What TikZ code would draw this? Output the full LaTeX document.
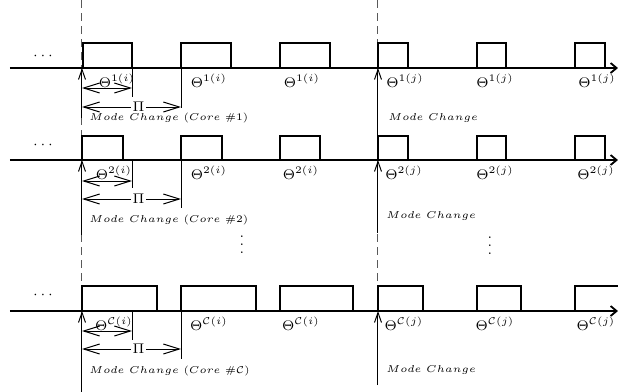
\documentclass[tikz,border=0pt]{standalone}
\usetikzlibrary{arrows,arrows.meta,positioning}

\tikzset{
  axe/.style={line width=0.9pt,-{Straight Barb[length=3pt,width=5pt]}},
  boite/.style={line width=0.8pt},
  coupure/.style={gray!70!black,dashed,dash pattern=on 4pt off 2.5pt,line width=0.5pt},
  duree/.style={line width=0.5pt,{Straight Barb[length=8pt,width=5pt]}-{Straight Barb[length=8pt,width=5pt]}},
  repere/.style={line width=0.4pt},
  mc/.style={line width=0.5pt,-{Straight Barb[length=5pt,width=3.5pt]}},
  etiq/.style={font=\fontsize{7}{8}\selectfont,inner sep=0pt},
  txtmc/.style={font=\fontsize{5}{6}\selectfont,anchor=west,inner sep=0pt},
  points/.style={font=\fontsize{7}{8}\selectfont,inner sep=0pt},
}

\begin{document}
\begin{tikzpicture}[x=0.5pt,y=-0.5pt]
\useasboundingbox (0,0) rectangle (618,392);

% changements de mode (pointilles)
\draw[coupure] (82,0) -- (82,392);
\draw[coupure] (378,0) -- (378,311);

%%% coeur 1
\coordinate (g1) at (10,68);
\coordinate (d1) at (618,68);
\draw[axe] (g1) -- (d1);
\node[points] (dots1) at (43,56) {$\cdots$};

% taches coeur 1
\draw[boite] (83,68) |- (132,43) -- (132,68);
\draw[boite] (181,68) |- (231,43) -- (231,68);
\draw[boite] (280,68) |- (330,43) -- (330,68);
\draw[boite] (378,68) |- (408,43) -- (408,68);
\draw[boite] (477,68) |- (506,43) -- (506,68);
\draw[boite] (575,68) |- (605,43) -- (605,68);

\node[etiq] (t1a) at (117,81) {$\Theta^{1(i)}$};
\node[etiq] (t1b) at (209,81) {$\Theta^{1(i)}$};
\node[etiq] (t1c) at (302,81) {$\Theta^{1(i)}$};
\node[etiq] (t1d) at (405,81) {$\Theta^{1(j)}$};
\node[etiq] (t1e) at (495,81) {$\Theta^{1(j)}$};
\node[etiq] (t1f) at (597,81) {$\Theta^{1(j)}$};

% durees coeur 1
\coordinate (r1a) at (132,68);
\coordinate (r1b) at (132,97);
\coordinate (r1c) at (181,68);
\coordinate (r1d) at (181,108);
\draw[repere] (r1a) -- (r1b);
\draw[repere] (r1c) -- (r1d);
\coordinate (s1g) at (82,88);
\coordinate (s1d) at (132,88);
\draw[duree] (s1g) -- (s1d);
\coordinate (p1g) at (82,107);
\coordinate (p1d) at (181,107);
\draw[duree] (p1g) -- (p1d) node[pos=0.57,etiq,fill=white,inner sep=1pt] (pi1) {$\Pi$};

% mode change coeur 1
\coordinate (m1a) at (82,118);
\coordinate (m1b) at (82,68);
\draw[mc] (m1a) -- (m1b);
\node[txtmc] (mc1) at (89,118) {$Mode\ Change\ (Core\ \#1)$};
\coordinate (n1a) at (378,136);
\coordinate (n1b) at (378,68);
\draw[mc] (n1a) -- (n1b);
\node[txtmc] (nc1) at (388,118) {$Mode\ Change$};

%%% coeur 2
\coordinate (g2) at (10,160);
\coordinate (d2) at (618,160);
\draw[axe] (g2) -- (d2);
\node[points] (dots2) at (43,145) {$\cdots$};

% taches coeur 2
\draw[boite] (82,160) |- (123,136) -- (123,160);
\draw[boite] (181,160) |- (222,136) -- (222,160);
\draw[boite] (280,160) |- (320,136) -- (320,160);
\draw[boite] (378,160) |- (408,136) -- (408,160);
\draw[boite] (477,160) |- (506,136) -- (506,160);
\draw[boite] (575,160) |- (605,136) -- (605,160);

\node[etiq] (t2a) at (114,173) {$\Theta^{2(i)}$};
\node[etiq] (t2b) at (209,173) {$\Theta^{2(i)}$};
\node[etiq] (t2c) at (301,173) {$\Theta^{2(i)}$};
\node[etiq] (t2d) at (404,173) {$\Theta^{2(j)}$};
\node[etiq] (t2e) at (495,173) {$\Theta^{2(j)}$};
\node[etiq] (t2f) at (596,173) {$\Theta^{2(j)}$};

% durees coeur 2
\coordinate (r2a) at (132,160);
\coordinate (r2b) at (132,188);
\coordinate (r2c) at (181,160);
\coordinate (r2d) at (181,208);
\draw[repere] (r2a) -- (r2b);
\draw[repere] (r2c) -- (r2d);
\coordinate (s2g) at (82,181);
\coordinate (s2d) at (132,181);
\draw[duree] (s2g) -- (s2d);
\coordinate (p2g) at (82,199);
\coordinate (p2d) at (181,199);
\draw[duree] (p2g) -- (p2d) node[pos=0.57,etiq,fill=white,inner sep=1pt] (pi2) {$\Pi$};

% mode change coeur 2
\coordinate (m2a) at (82,235);
\coordinate (m2b) at (82,160);
\draw[mc] (m2a) -- (m2b);
\node[txtmc] (mc2) at (89,220) {$Mode\ Change\ (Core\ \#2)$};
\coordinate (n2a) at (378,233);
\coordinate (n2b) at (378,160);
\draw[mc] (n2a) -- (n2b);
\node[txtmc] (nc2) at (386,216) {$Mode\ Change$};

% autres coeurs
\node[points] (vd1) at (242,239) {$\vdots$};
\node[points] (vd2) at (490,240) {$\vdots$};

%%% coeur C
\coordinate (g3) at (10,311);
\coordinate (d3) at (618,311);
\draw[axe] (g3) -- (d3);
\node[points] (dots3) at (43,295) {$\cdots$};

% taches coeur C
\draw[boite] (82,311) |- (157,286) -- (157,311);
\draw[boite] (181,311) |- (256,286) -- (256,311);
\draw[boite] (280,311) |- (353,286) -- (353,311);
\draw[boite] (378,311) |- (423,286) -- (423,311);
\draw[boite] (477,311) |- (521,286) -- (521,311);
\draw[boite] (575,311) |- (618,286);

\node[etiq] (t3a) at (114,324) {$\Theta^{\mathcal{C}(i)}$};
\node[etiq] (t3b) at (209,324) {$\Theta^{\mathcal{C}(i)}$};
\node[etiq] (t3c) at (301,324) {$\Theta^{\mathcal{C}(i)}$};
\node[etiq] (t3d) at (404,324) {$\Theta^{\mathcal{C}(j)}$};
\node[etiq] (t3e) at (495,324) {$\Theta^{\mathcal{C}(j)}$};
\node[etiq] (t3f) at (596,324) {$\Theta^{\mathcal{C}(j)}$};

% durees coeur C
\coordinate (r3a) at (132,311);
\coordinate (r3b) at (132,340);
\coordinate (r3c) at (181,311);
\coordinate (r3d) at (181,359);
\draw[repere] (r3a) -- (r3b);
\draw[repere] (r3c) -- (r3d);
\coordinate (s3g) at (82,331);
\coordinate (s3d) at (132,331);
\draw[duree] (s3g) -- (s3d);
\coordinate (p3g) at (82,349);
\coordinate (p3d) at (181,349);
\draw[duree] (p3g) -- (p3d) node[pos=0.57,etiq,fill=white,inner sep=1pt] (pi3) {$\Pi$};

% mode change coeur C
\coordinate (m3a) at (82,392);
\coordinate (m3b) at (82,311);
\draw[mc] (m3a) -- (m3b);
\node[txtmc] (mc3) at (89,371) {$Mode\ Change\ (Core\ \#\mathcal{C})$};
\coordinate (n3a) at (378,385);
\coordinate (n3b) at (378,311);
\draw[mc] (n3a) -- (n3b);
\node[txtmc] (nc3) at (386,370) {$Mode\ Change$};

\end{tikzpicture}
\end{document}
